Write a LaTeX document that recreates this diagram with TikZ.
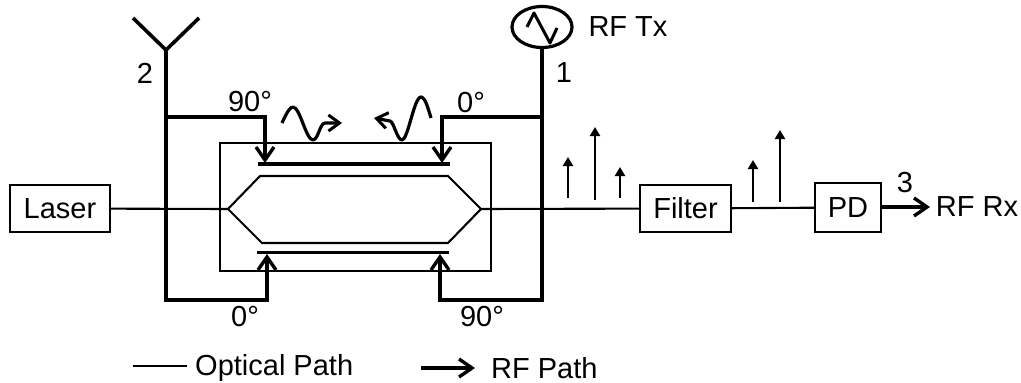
\documentclass[tikz,border=0pt]{standalone}
\usepackage{fontspec}
\setmainfont{Liberation Sans}
\usetikzlibrary{arrows.meta,shapes.geometric}
\tikzset{
  optline/.style={line width=2.1pt,draw=black},
  rfline/.style={line width=3.6pt,draw=black,line join=miter},
  rfarrow/.style={rfline,-{Straight Barb[length=13pt,width=18pt,line width=3.4pt]}},
  elec/.style={line width=3.2pt,draw=black},
  spike/.style={line width=2.8pt,-{Triangle[length=9pt,width=10pt]}},
  blockbox/.style={draw=black,line width=2.1pt,fill=white,inner sep=0pt,minimum height=47pt,font=\fontsize{29}{29}\selectfont},
  lbl/.style={inner sep=0pt,font=\fontsize{29}{29}\selectfont},
  wave/.style={line width=3.2pt,line join=round,-{Straight Barb[length=11pt,width=16pt,line width=3pt]}}
}
\begin{document}
\begin{tikzpicture}[x=1pt,y=-1pt]
\useasboundingbox (0,0) rectangle (1021,383);
% optical
\node[blockbox,minimum width=100pt] (laser) at (60,208.5) {Laser};
\node[blockbox,minimum width=91pt] (filter) at (685.5,208.5) {Filter};
\node[blockbox,minimum width=66pt,minimum height=49pt] (pd) at (848,207.5) {PD};
\node[draw=black,line width=2.1pt,minimum width=271pt,minimum height=128pt,inner sep=0pt] (mod) at (355.5,207) {};
\coordinate (hl) at (228,209);
\coordinate (hr) at (481,209);
\draw[optline] (hl) -- (260,176) -- (448,176) -- (hr) -- (448,243) -- (262,243) -- cycle;
\draw[optline] (laser) -- (hl);
\draw[optline] (hr) -- (filter);
\draw[optline] (filter) -- (pd);
% electrodes
\coordinate (etl) at (258,164); \coordinate (etr) at (450,164);
\coordinate (ebl) at (257,252.5); \coordinate (ebr) at (449,252.5);
\draw[elec] (etl) -- (etr);
\draw[elec] (ebl) -- (ebr);
% antenna
\coordinate (ant) at (166,50);
\coordinate (antl) at (133,18);
\coordinate (antr) at (199,18);
\draw[rfline] (antl) -- (ant) -- (antr);
% source
\node[draw=black,line width=3.2pt,ellipse,minimum width=60pt,minimum height=41pt,inner sep=0pt] (src) at (542,27) {};
\coordinate (sa) at (527,27);
\coordinate (sb) at (534,13);
\coordinate (sc) at (550,43);
\coordinate (sd) at (557,28);
\draw[line width=3pt,line join=round] (sa) -- (sb) -- (sc) -- (sd);
% RF lines
\coordinate (lb) at (166,300);
\coordinate (rb) at (542,300);
\draw[rfline] (ant) -- (lb) -- (267,300);
\draw[rfarrow] (267,301.8) -- (267,254);
\draw[rfline] (src.south) -- (rb) -- (440,300);
\draw[rfarrow] (440,301.8) -- (440,254);
\draw[rfline] (166,117) -- (265,117);
\draw[rfarrow] (265,115.2) -- (265,163);
\draw[rfline] (542,117) -- (442,117);
\draw[rfarrow] (442,115.2) -- (442,163);
\draw[rfarrow] (pd) ++(34,-0.5) -- (930,207);
% spikes
\draw[spike] (568,198) -- (568,157);
\draw[spike] (595,200) -- (595,127);
\draw[spike] (620,198) -- (620,167);
\draw[spike] (753,202) -- (753,160);
\draw[spike] (780,202) -- (780,130);
% waves
\draw[wave] (282,123) .. controls (287,112) and (290,107) .. (293,107) .. controls (300,107) and (306,140) .. (313,140) .. controls (318,140) and (320,123) .. (325,123) -- (342,123);
\draw[wave] (431,118) .. controls (428,108) and (425,97) .. (421,97) .. controls (414,97) and (408,140) .. (402,140) .. controls (397,140) and (394,122) .. (390,121) -- (374,118);
% labels
\node[lbl] (n2) at (145,73) {2};
\node[lbl] (n1) at (564,73) {1};
\node[lbl] (n3) at (905,183) {3};
\node[lbl] (ttx) at (628,27) {RF Tx};
\node[lbl] (trx) at (977,207) {RF Rx};
\node[lbl] (p1) at (250,102) {90°};
\node[lbl] (p2) at (471,103) {0°};
\node[lbl] (p3) at (245,317) {0°};
\node[lbl] (p4) at (482,317) {90°};
% legend
\node[lbl,anchor=west] (lopt) at (195,368) {Optical Path};
\node[lbl,anchor=west] (lrf) at (491,368) {RF Path};
\coordinate (lo) at (133,366);
\coordinate (la) at (421,368);
\draw[optline] (lo) -- (187,366);
\draw[rfarrow] (la) -- (475,368);
\end{tikzpicture}
\end{document}
